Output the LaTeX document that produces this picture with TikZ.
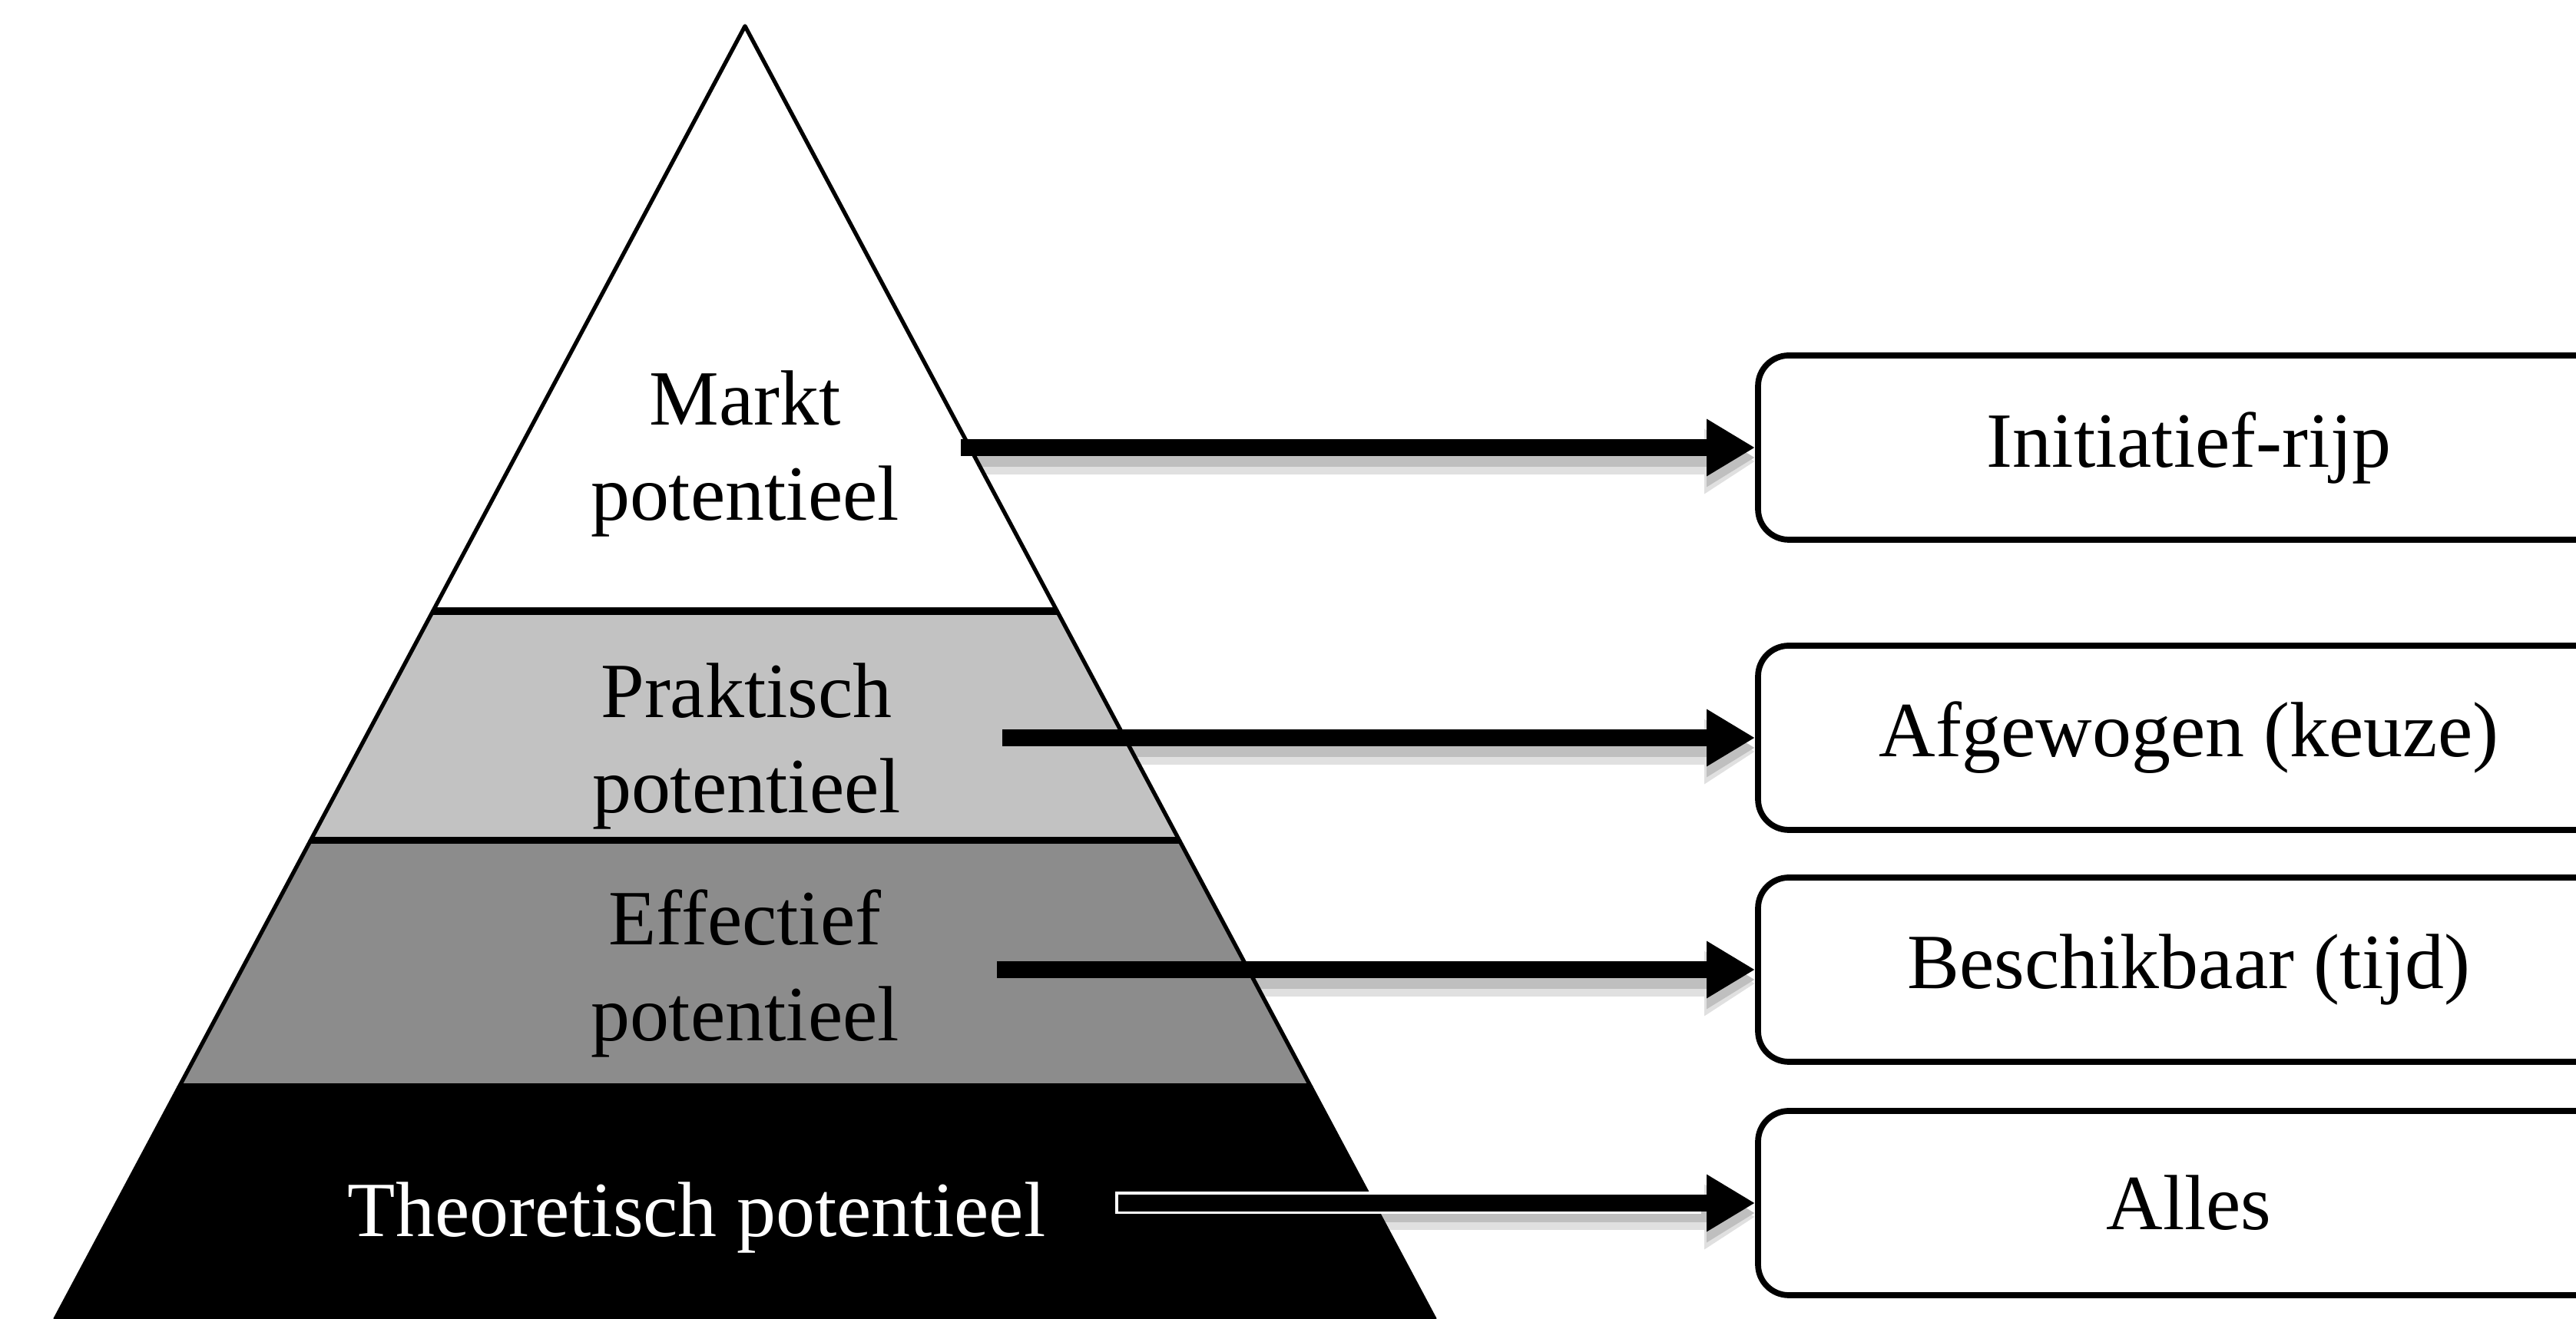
\documentclass[tikz,border=0pt]{standalone}
\usepackage{fontspec}
\setmainfont{Liberation Serif}
\usepackage{xcolor}
\usetikzlibrary{arrows.meta,positioning,calc}

\definecolor{praktgray}{gray}{0.76}
\definecolor{effgray}{gray}{0.55}

\begin{document}
\begin{tikzpicture}[
  layer/.style={draw=black, line width=1.5pt, line join=round},
  sepline/.style={line width=2.6pt},
  lvlabel/.style={align=center, inner sep=0pt, font=\fontsize{29}{35.3}\selectfont},
  outcome/.style={draw=black, line width=2.2pt, rounded corners=4mm, fill=white,
    minimum width=11.22cm, minimum height=2.40cm, font=\fontsize{29}{35.3}\selectfont},
  bigarrow/.style={line width=2.2mm, -{Triangle[length=6.3mm 0 0, width=7mm 0 0]}},
  arrowshadow/.style={black!12, line width=3.4mm, -{Triangle[length=6.6mm 0 0, width=8mm 0 0]},
    transform canvas={yshift=-1.8mm}},
  arrowshade/.style={black!25, line width=2.4mm, -{Triangle[length=6.3mm 0 0, width=7.2mm 0 0]},
    transform canvas={yshift=-1.3mm}},
  shaftrim/.style={white, line width=2.9mm, shorten <=-0.4mm, shorten >=7mm}
]
\useasboundingbox (0,0) rectangle (33.54,17.18);

% boxes on the right
\node[outcome] (initiatief) at (28.50,11.35) {Initiatief-rijp};
\node[outcome] (afgewogen) at (28.50,7.57) {Afgewogen (keuze)};
\node[outcome] (beschikbaar) at (28.50,4.55) {Beschikbaar (tijd)};
\node[outcome] (alles) at (28.50,1.51) {Alles};

% where the arrows leave the pyramid
\coordinate (fromMarkt) at (12.51,11.35);
\coordinate (fromPrakt) at (13.05,7.57);
\coordinate (fromEff) at (12.98,4.55);
\coordinate (fromTheo) at (14.56,1.51);

% soft shadows under the arrows
\draw[arrowshadow] (fromMarkt) -- (initiatief.west);
\draw[arrowshadow] (fromPrakt) -- (afgewogen.west);
\draw[arrowshadow] (fromEff) -- (beschikbaar.west);
\draw[arrowshadow] (fromTheo) -- (alles.west);
\draw[arrowshade] (fromMarkt) -- (initiatief.west);
\draw[arrowshade] (fromPrakt) -- (afgewogen.west);
\draw[arrowshade] (fromEff) -- (beschikbaar.west);
\draw[arrowshade] (fromTheo) -- (alles.west);

% pyramid
\coordinate (apex) at (9.70,16.84);
\coordinate (bl) at (0.72,0);
\coordinate (br) at (18.68,0);
\coordinate (l1) at ($(apex)!0.4525!(bl)$);
\coordinate (r1) at ($(apex)!0.4525!(br)$);
\coordinate (l2) at ($(apex)!0.630!(bl)$);
\coordinate (r2) at ($(apex)!0.630!(br)$);
\coordinate (l3) at ($(apex)!0.8207!(bl)$);
\coordinate (r3) at ($(apex)!0.8207!(br)$);

\filldraw[layer, fill=white] (apex) -- (r1) -- (l1) -- cycle;
\filldraw[layer, fill=praktgray] (l1) -- (r1) -- (r2) -- (l2) -- cycle;
\filldraw[layer, fill=effgray] (l2) -- (r2) -- (r3) -- (l3) -- cycle;
\filldraw[layer, fill=black] (l3) -- (r3) -- (br) -- (bl) -- cycle;
\draw[sepline] (l1) -- (r1);
\draw[sepline] (l2) -- (r2);
\draw[sepline] (l3) -- (r3);

\node[lvlabel] (markt) at (9.70,11.27) {Markt\\potentieel};
\node[lvlabel] (prakt) at (9.72,7.46) {Praktisch\\potentieel};
\node[lvlabel] (eff) at (9.70,4.50) {Effectief\\potentieel};
\node[lvlabel, text=white] (theo) at (9.07,1.32) {Theoretisch potentieel};

% arrows
\draw[shaftrim] (fromTheo) -- (alles.west);
\draw[bigarrow] (fromMarkt) -- (initiatief.west);
\draw[bigarrow] (fromPrakt) -- (afgewogen.west);
\draw[bigarrow] (fromEff) -- (beschikbaar.west);
\draw[bigarrow] (fromTheo) -- (alles.west);
\end{tikzpicture}
\end{document}
